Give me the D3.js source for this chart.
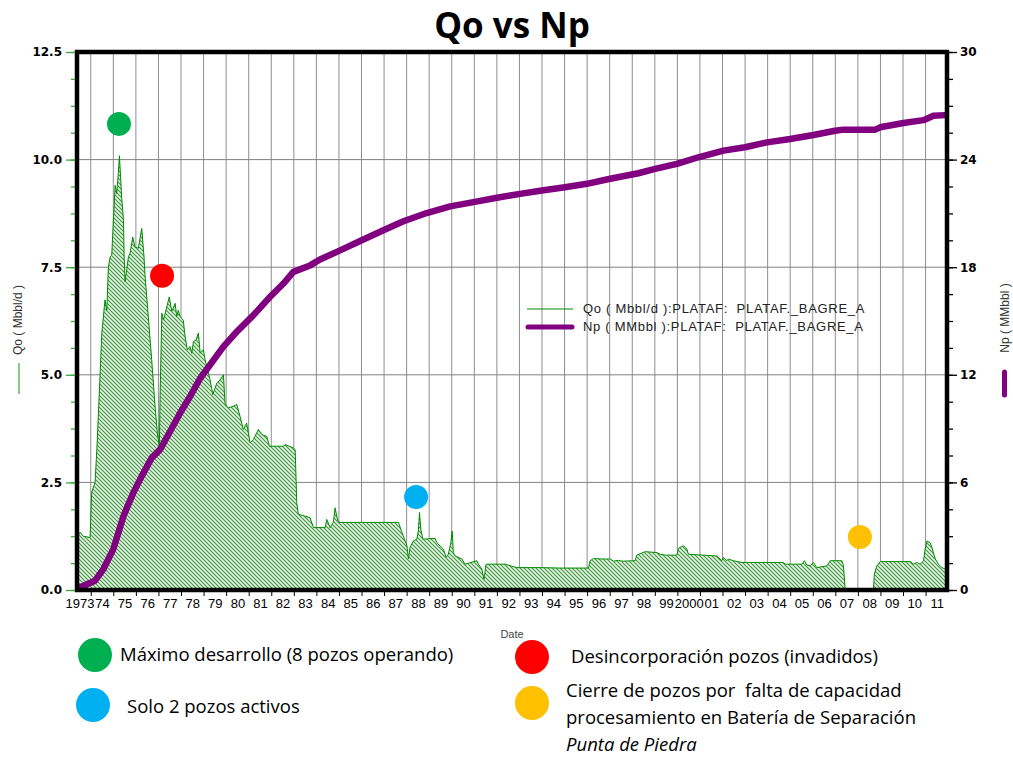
<!DOCTYPE html>
<html><head><meta charset="utf-8">
<script src="https://cdn.jsdelivr.net/npm/d3@7"></script>
<style>body{margin:0;background:#fff} text{white-space:pre}</style>
</head><body><svg id="c" width="1013" height="757"></svg>
<script>
// ---------- data ----------
const qoYears = [1973.39,1973.53,1973.66,1973.97,1974.04,1974.19,1974.27,1974.41,1974.49,1974.63,
1974.71,1974.78,1974.86,1974.93,1975.08,1975.15,1975.22,1975.27,1975.33,1975.37,
1975.45,1975.48,1975.52,1975.67,1975.74,1975.86,1975.96,1976.11,1976.22,1976.26,
1976.36,1976.41,1976.55,1976.70,1976.85,1976.95,1977.04,1977.07,1977.15,1977.22,
1977.37,1977.48,1977.59,1977.74,1977.81,1977.88,1977.96,1978.10,1978.18,1978.28,
1978.40,1978.48,1978.55,1978.67,1978.77,1978.85,1978.99,1979.07,1979.14,1979.29,
1979.41,1979.59,1979.73,1979.88,1979.95,1980.03,1980.10,1980.32,1980.47,1980.62,
1980.76,1980.91,1981.06,1981.21,1981.43,1981.58,1981.80,1981.92,1982.54,1982.61,
1982.98,1983.06,1983.13,1983.20,1983.72,1983.87,1984.39,1984.46,1984.61,1984.75,
1984.83,1984.90,1984.98,1987.64,1987.79,1988.01,1988.08,1988.15,1988.30,1988.45,
1988.52,1988.57,1988.63,1988.72,1989.26,1989.34,1989.63,1989.75,1989.85,1989.96,
1990.02,1990.07,1990.15,1990.45,1990.59,1991.11,1991.18,1991.33,1991.43,1991.52,
1992.36,1992.88,1993.92,1994.80,1996.06,1996.13,1996.28,1996.72,1997.02,1997.17,
1997.39,1997.54,1998.13,1998.20,1998.57,1999.09,1999.24,1999.46,1999.98,2000.05,
2000.27,2000.42,2000.49,2001.75,2001.97,2002.04,2002.19,2002.26,2002.48,2002.86,
2004.70,2004.78,2005.52,2005.63,2005.74,2005.88,2006.03,2006.18,2006.62,2006.77,
2007.29,2007.36,2007.44,2008.69,2008.73,2008.84,2008.99,2010.32,2010.46,2010.61,
2010.76,2010.91,2010.98,2011.06,2011.20,2011.28,2011.43,2011.57,2011.72,2011.87];
const qoValues = [1.25,1.34,1.25,1.22,2.27,2.5,3.26,4.96,5.97,6.74,
6.5,7.5,7.74,7.78,9.4,9.21,9.68,10.09,9.51,9.12,
8.59,7.74,7.16,7.74,7.82,8.2,7.97,7.94,8.29,8.4,
7.74,7.28,6.35,5.35,4.27,3.66,3.31,4.42,6.43,6.27,
6.58,6.81,6.47,6.66,6.35,6.5,6.35,6.27,5.89,5.58,
5.66,5.5,5.77,5.81,5.97,5.5,5.58,5.35,5.19,4.88,
4.54,4.81,4.88,5.0,4.34,4.27,4.23,4.27,4.31,4.03,
3.73,3.88,3.42,3.5,3.73,3.61,3.57,3.34,3.34,3.38,
3.3,3.26,2.03,1.76,1.68,1.45,1.45,1.64,1.45,1.57,
1.91,1.72,1.57,1.57,1.34,1.03,0.72,0.99,1.14,1.18,
1.37,1.8,1.41,1.18,1.2,1.1,0.95,0.76,0.83,1.1,
1.37,0.87,0.79,0.72,0.6,0.68,0.6,0.49,0.25,0.6,
0.6,0.52,0.52,0.51,0.51,0.68,0.73,0.72,0.72,0.67,
0.69,0.67,0.68,0.81,0.89,0.87,0.83,0.81,0.81,0.97,
1.03,0.95,0.83,0.79,0.68,0.76,0.68,0.72,0.68,0.64,
0.64,0.6,0.6,0.68,0.58,0.56,0.64,0.52,0.56,0.68,
0.68,0.56,0.0,0.0,0.37,0.56,0.66,0.66,0.6,0.64,
0.6,0.68,0.95,1.14,1.1,0.99,0.72,0.6,0.52,0.49];

const npYears = [1973.39,1973.53,1974.19,1974.56,1975.00,1975.45,1975.89,1976.26,1976.70,1977.07,
1977.52,1977.96,1978.40,1978.85,1979.29,1979.88,1980.47,1981.21,1981.95,1982.54,
1982.98,1983.72,1984.16,1985.05,1986.01,1986.97,1987.86,1988.89,1989.93,1990.96,
1992.00,1993.03,1993.99,1995.02,1995.99,1997.02,1998.27,1999.01,1999.98,2000.93,
2002.04,2003.00,2003.97,2005.00,2006.03,2006.99,2007.36,2008.77,2008.99,2010.02,
2010.91,2011.35,2011.87];
const npValues = [0.05,0.15,0.52,1.17,2.28,4.13,5.43,6.35,7.37,7.83,
8.85,9.87,10.79,11.81,12.56,13.57,14.4,15.33,16.35,17.09,
17.74,18.1,18.43,18.94,19.5,20.06,20.56,21.02,21.39,21.63,
21.87,22.09,22.28,22.46,22.65,22.93,23.24,23.48,23.76,24.13,
24.5,24.69,24.96,25.15,25.37,25.61,25.67,25.67,25.8,26.04,
26.2,26.44,26.48];

const yearTicks = d3.range(1974, 2012);
const yearLabelYears = d3.range(1973, 2012);
const yearLabels = yearLabelYears.map(y => (y === 1973 || y === 2000) ? String(y) : String(y % 100).padStart(2, "0"));
const qoTicks = [0, 2.5, 5, 7.5, 10, 12.5];
const qoTickLabels = ["0.0", "2.5", "5.0", "7.5", "10.0", "12.5"];
const npTicks = [0, 6, 12, 18, 24, 30];
const legendLabels = ["Qo ( Mbbl/d ):PLATAF:  PLATAF._BAGRE_A", "Np ( MMbbl ):PLATAF:  PLATAF._BAGRE_A"];
const eventYears = [1975.25, 1977.16, 1988.42, 2008.09];
const eventQo = [10.83, 7.3, 2.16, 1.23];
const eventColors = ["#00b050", "#ff0000", "#00b0f0", "#ffc000"];
const noteTexts = [
  ["Máximo desarrollo (8 pozos operando)"],
  ["Desincorporación pozos (invadidos)"],
  ["Solo 2 pozos activos"],
  ["Cierre de pozos por  falta de capacidad", "procesamiento en Batería de Separación", "Punta de Piedra"]
];
const noteColors = ["#00b050", "#ff0000", "#00b0f0", "#ffc000"];

// ---------- layout ----------
const L = 77, R = 947, T = 52, B = 590;
const svg = d3.select("#c");

const x = d3.scaleLinear().domain([1973.39, 2011.95]).range([L, R]);
const yQ = d3.scaleLinear().domain([0, 12.5]).range([B, T]);
const yN = d3.scaleLinear().domain([0, 30]).range([B, T]);

// pattern
const defs = svg.append("defs");
const pat = defs.append("pattern").attr("id", "hatch").attr("patternUnits", "userSpaceOnUse")
  .attr("width", 4).attr("height", 4);
pat.append("rect").attr("width", 4).attr("height", 4).attr("fill", "#e6f3e6");
pat.append("path").attr("d", "M0,0 L4,4 M-1,3 L1,5 M3,-1 L5,1")
  .attr("stroke", "#3a953a").attr("stroke-width", 1.05);
defs.append("clipPath").attr("id", "clip").append("rect")
  .attr("x", L).attr("y", T).attr("width", R - L).attr("height", B - T);

// title
svg.append("text").attr("x", 512).attr("y", 38).attr("text-anchor", "middle")
  .attr("font-family", "Open Sans, sans-serif").attr("font-weight", "bold").attr("font-size", 35)
  .text("Qo vs Np");

// grid
const grid = svg.append("g");
grid.selectAll("line.v").data(yearTicks).join("line")
  .attr("x1", d => x(d)).attr("x2", d => x(d)).attr("y1", T).attr("y2", B)
  .attr("stroke", "#8e8e8e").attr("stroke-width", 1);
grid.selectAll("line.h").data(qoTicks.slice(1, -1)).join("line")
  .attr("x1", L).attr("x2", R).attr("y1", d => yQ(d)).attr("y2", d => yQ(d))
  .attr("stroke", "#808080").attr("stroke-width", 1);

// data
const qo = qoYears.map((y, i) => ({ y, v: qoValues[i] }));
const np = npYears.map((y, i) => ({ y, v: npValues[i] }));
const plot = svg.append("g").attr("clip-path", "url(#clip)");
plot.append("path").datum(qo)
  .attr("d", d3.area().x(d => x(d.y)).y0(B).y1(d => yQ(d.v)))
  .attr("fill", "url(#hatch)");
plot.append("path").datum(qo)
  .attr("d", d3.line().x(d => x(d.y)).y(d => yQ(d.v)))
  .attr("fill", "none").attr("stroke", "#008a00").attr("stroke-width", 1);
plot.append("path").datum(np)
  .attr("d", d3.line().x(d => x(d.y)).y(d => yN(d.v)))
  .attr("fill", "none").attr("stroke", "#800080").attr("stroke-width", 6.5)
  .attr("stroke-linejoin", "round").attr("stroke-linecap", "round");

// frame
svg.append("rect").attr("x", L).attr("y", T).attr("width", R - L).attr("height", B - T)
  .attr("fill", "none").attr("stroke", "#000").attr("stroke-width", 4.5);

// left axis
const minorQ = d3.range(0, 12.5001, 0.625);
const gl = svg.append("g").attr("transform", `translate(${L - 2},0)`);
gl.call(d3.axisLeft(yQ).tickValues(minorQ).tickSize(4).tickFormat(""));
gl.append("g").call(d3.axisLeft(yQ).tickValues(qoTicks).tickSize(9)
  .tickFormat((d, i) => qoTickLabels[i]));
gl.selectAll(".domain").remove();
gl.selectAll("line").attr("stroke", "#3aa83a").attr("stroke-width", 1.3);
gl.selectAll("text").attr("font-family", "DejaVu Sans, sans-serif").attr("font-weight", "bold")
  .attr("font-size", 12).attr("fill", "#000").attr("dx", "-1");

// right axis
const minorN = d3.range(0, 30.001, 1.5);
const gr = svg.append("g").attr("transform", `translate(${R + 2},0)`);
gr.call(d3.axisRight(yN).tickValues(minorN).tickSize(4).tickFormat(""));
gr.append("g").call(d3.axisRight(yN).tickValues(npTicks).tickSize(8));
gr.selectAll(".domain").remove();
gr.selectAll("line").attr("stroke", "#000").attr("stroke-width", 1.3);
gr.selectAll("text").attr("font-family", "DejaVu Sans, sans-serif").attr("font-weight", "bold")
  .attr("font-size", 12).attr("fill", "#000");

// bottom axis
const gb = svg.append("g").attr("transform", `translate(0,${B + 2})`);
gb.call(d3.axisBottom(x).tickValues(yearTicks).tickSize(4).tickFormat(""));
gb.append("g").call(d3.axisBottom(x).tickValues(yearLabelYears.map(y => y + 0.5)).tickSize(0)
  .tickFormat((d, i) => yearLabels[i]));
gb.selectAll(".domain").remove();
gb.selectAll("line").attr("stroke", "#000");
gb.selectAll("text").attr("font-family", "Liberation Sans, Arial, sans-serif")
  .attr("font-size", 13).attr("fill", "#000").attr("dy", "1.0em");

// axis titles
svg.append("text").attr("transform", "translate(22,320) rotate(-90)").attr("text-anchor", "middle")
  .attr("font-family", "Liberation Sans, Arial, sans-serif").attr("font-size", 12).attr("fill", "#333")
  .text("Qo ( Mbbl/d )");
svg.append("line").attr("x1", 19).attr("x2", 19).attr("y1", 363).attr("y2", 394)
  .attr("stroke", "#3aa83a").attr("stroke-width", 1.2);
svg.append("text").attr("transform", "translate(1009,318) rotate(-90)").attr("text-anchor", "middle")
  .attr("font-family", "Liberation Sans, Arial, sans-serif").attr("font-size", 12).attr("fill", "#333")
  .text("Np ( MMbbl )");
svg.append("line").attr("x1", 1004.5).attr("x2", 1004.5).attr("y1", 372).attr("y2", 395)
  .attr("stroke", "#800080").attr("stroke-width", 5).attr("stroke-linecap", "round");
svg.append("text").attr("x", 512).attr("y", 638).attr("text-anchor", "middle")
  .attr("font-family", "Liberation Sans, Arial, sans-serif").attr("font-size", 11).attr("fill", "#444")
  .text("Date");

// legend
const lg = svg.append("g");
lg.append("line").attr("x1", 527).attr("x2", 573).attr("y1", 309).attr("y2", 309)
  .attr("stroke", "#008a00").attr("stroke-width", 1);
lg.append("line").attr("x1", 528).attr("x2", 572).attr("y1", 327).attr("y2", 327)
  .attr("stroke", "#800080").attr("stroke-width", 5).attr("stroke-linecap", "round");
lg.selectAll("text").data(legendLabels).join("text")
  .attr("x", 583).attr("y", (d, i) => 313 + i * 18)
  .attr("font-family", "Liberation Sans, Arial, sans-serif").attr("font-size", 13)
  .attr("letter-spacing", 0.7).attr("fill", "#222").text(d => d);

// event markers
svg.selectAll("circle.ev").data(eventYears).join("circle")
  .attr("cx", d => x(d)).attr("cy", (d, i) => yQ(eventQo[i])).attr("r", 12)
  .attr("fill", (d, i) => eventColors[i]);

// notes
const notePos = [[95, 655, 120, 661], [532, 657, 571, 663], [93, 705, 127, 713], [532, 703, 566, 697]];
noteTexts.forEach((lines, i) => {
  const p = notePos[i];
  svg.append("circle").attr("cx", p[0]).attr("cy", p[1]).attr("r", 17).attr("fill", noteColors[i]);
  lines.forEach((t, j) => {
    svg.append("text").attr("x", p[2]).attr("y", p[3] + j * 27)
      .attr("font-family", "Open Sans, sans-serif").attr("font-size", 18.5)
      .attr("font-style", (i === 3 && j === 2) ? "italic" : "normal")
      .attr("fill", "#000").text(t);
  });
});
</script></body></html>
